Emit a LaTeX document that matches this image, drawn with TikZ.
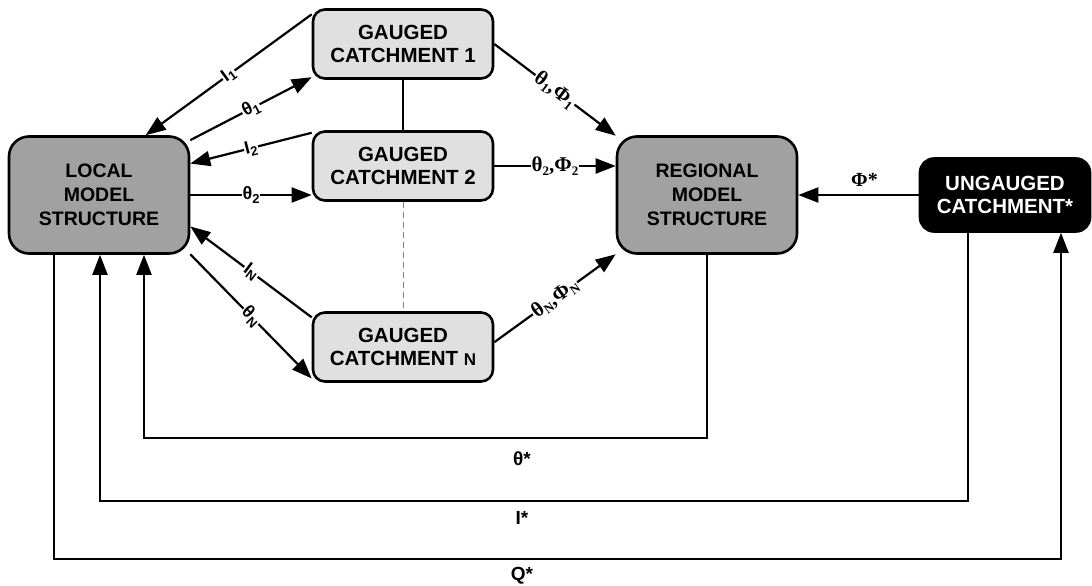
\documentclass[tikz,border=0pt]{standalone}
\usepackage{fontspec}
\setmainfont{Liberation Sans}
\newfontfamily\grk{Liberation Serif}
\usetikzlibrary{arrows.meta}
\newcommand\lsub[1]{\raisebox{-0.35ex}{\fontsize{13}{13}\selectfont #1}}

\begin{document}
\begin{tikzpicture}[x=1pt, y=-1pt,
	model/.style={draw, line width=2.6pt, rounded corners=20pt, fill=black!37, align=center,
		font=\fontsize{19.5}{24}\selectfont\bfseries, minimum width=180pt, minimum height=117pt},
	gauged/.style={draw, line width=2.6pt, rounded corners=12pt, fill=black!12, align=center,
		font=\fontsize{20.5}{23}\selectfont\bfseries, minimum width=180pt, minimum height=69pt},
	ungauged/.style={draw, line width=2.6pt, rounded corners=14pt, fill=black, text=white, align=center,
		font=\fontsize{20.5}{23}\selectfont\bfseries, minimum width=170pt, minimum height=73pt},
	flow/.style={line width=2.2pt, -{Triangle[length=20pt,width=15pt]}},
	link/.style={line width=2.2pt},
	lbl/.style={fill=white, inner sep=1pt, font=\fontsize{18}{18}\selectfont\bfseries, sloped},
	rlbl/.style={lbl, font=\fontsize{21}{21}\selectfont\grk\bfseries},
	star/.style={font=\fontsize{19}{19}\selectfont\bfseries}]
\useasboundingbox (0,0) rectangle (1092,586);

	% boxes
	\node[model] (local) at (99,195) {LOCAL\\MODEL\\STRUCTURE};
	\node[model] (regional) at (707,195) {REGIONAL\\MODEL\\STRUCTURE};
	\node[gauged] (g1) at (403,44) {GAUGED\\CATCHMENT 1};
	\node[gauged] (g2) at (403,166) {GAUGED\\CATCHMENT 2};
	\node[gauged] (gN) at (403,347) {GAUGED\\CATCHMENT {\fontsize{17}{23}\selectfont N}};
	\node[ungauged] (ung) at (1005,195) {UNGAUGED\\CATCHMENT*};

	% local <-> gauged
	\draw[flow] (g1.162) -- (local.52) node[lbl, pos=0.5]{I\lsub{1}};
	\draw[flow] (local.31) -- (g1.200) node[lbl, pos=0.5]{θ\lsub{1}};
	\draw[flow] (g2.160) -- (local.19) node[lbl, pos=0.5]{I\lsub{2}};
	\draw[flow] (local.east) -- (local.east -| g2.west) node[lbl, pos=0.5]{θ\lsub{2}};
	\draw[flow] (gN.162) -- (local.-19) node[lbl, pos=0.5]{I\lsub{N}};
	\draw[flow] (local.-33) -- (gN.199) node[lbl, pos=0.5]{θ\lsub{N}};

	% gauged -> regional
	\draw[flow] (g1.east) -- (regional.147) node[rlbl, pos=0.5]{θ\lsub{1},Φ\lsub{1}};
	\draw[flow] (g2.east) -- (g2.east -| regional.west) node[rlbl, pos=0.5]{θ\lsub{2},Φ\lsub{2}};
	\draw[flow] (gN.3) -- (regional.213) node[rlbl, pos=0.5]{θ\lsub{N},Φ\lsub{N}};
	\draw[link] (g1.south) -- (g2.north);
	\draw[line width=1pt, black!50, dash pattern=on 6pt off 4pt] (g2.south) -- (gN.north);

	% ungauged
	\draw[flow] (ung.west) -- (regional.east) node[star, pos=0.45, above=4pt, font=\fontsize{20}{20}\selectfont\grk\bfseries]{Φ*};

	% loops underneath
	\coordinate (tq) at (144,438);
	\coordinate (iq) at (100,501);
	\coordinate (qq) at (54,559);
	\coordinate (qe) at (1061,559);
	\draw[flow] (regional.south) |- (tq) -- (tq |- local.south);
	\draw[flow] (ung.south -| 968,0) |- (iq) -- (iq |- local.south);
	\draw[flow] (local.south -| qq) -- (qq) -- (qe) -- (qe |- ung.south);
	\node[star] (tlbl) at (522,459) {θ*};
	\node[star] (ilbl) at (522,518) {I*};
	\node[star] (qlbl) at (522,576) {Q*};
\end{tikzpicture}
\end{document}
